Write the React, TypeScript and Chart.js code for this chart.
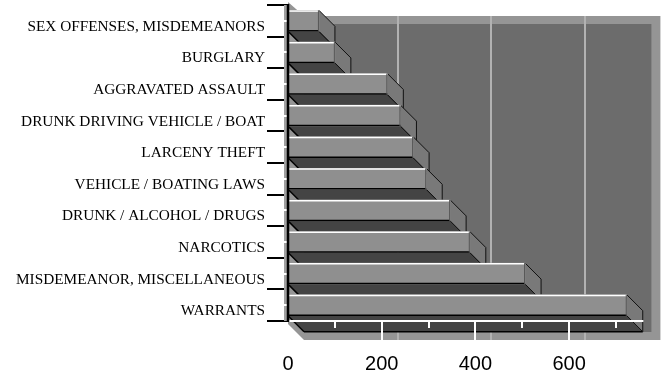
import React, { useEffect, useRef } from 'react';
import { Chart, registerables } from 'chart.js';

Chart.register(...registerables);

const categories = [
  'SEX OFFENSES, MISDEMEANORS',
  'BURGLARY',
  'AGGRAVATED ASSAULT',
  'DRUNK DRIVING VEHICLE / BOAT',
  'LARCENY THEFT',
  'VEHICLE / BOATING LAWS',
  'DRUNK / ALCOHOL / DRUGS',
  'NARCOTICS',
  'MISDEMEANOR, MISCELLANEOUS',
  'WARRANTS',
];
const arrests = [66, 100, 212, 240, 267, 295, 346, 388, 506, 723];
const majorTicks = [0, 200, 400, 600];
const minorTicks = [100, 300, 500, 700];
const axisMax = 750;

const D = 16;
const FRAME = '#959595';
const WALL = '#6c6c6c';
const GRID = '#b2b2b2';
const FRONT = '#8f8f8f';
const SIDE = '#797979';
const BOTTOM = '#444444';

function poly(ctx: CanvasRenderingContext2D, pts: number[][]) {
  ctx.beginPath();
  ctx.moveTo(pts[0][0], pts[0][1]);
  for (let i = 1; i < pts.length; i++) ctx.lineTo(pts[i][0], pts[i][1]);
  ctx.closePath();
}
function line(ctx: CanvasRenderingContext2D, x1: number, y1: number, x2: number, y2: number) {
  ctx.beginPath();
  ctx.moveTo(x1, y1);
  ctx.lineTo(x2, y2);
  ctx.stroke();
}

const pseudo3d = {
  id: 'pseudo3d',
  beforeDatasetsDraw(chart: any) {
    const { ctx, chartArea: a, scales } = chart;
    const xs = scales.x;
    const x0 = xs.getPixelForValue(0);
    const xEnd = xs.getPixelForValue(axisMax);
    ctx.save();
    // walls edge (frame)
    ctx.fillStyle = FRAME;
    poly(ctx, [
      [x0, a.top - 3],
      [x0 + D, a.top + 11],
      [xEnd + 21, a.top + 11],
      [xEnd + 21, a.bottom + 19],
      [x0 + D, a.bottom + 19],
      [x0, a.bottom + 3],
    ]);
    ctx.fill();
    // back wall
    ctx.fillStyle = WALL;
    ctx.fillRect(x0 + D, a.top + 19, xEnd + 12 - (x0 + D), a.bottom + 11 - (a.top + 19));
    // back wall grid lines
    ctx.strokeStyle = GRID;
    ctx.lineWidth = 2;
    for (const v of majorTicks) {
      if (v === 0) continue;
      const gx = Math.round(xs.getPixelForValue(v) + D);
      line(ctx, gx, a.top + 11, gx, a.bottom + 19);
    }
    // bottom & side faces, top to bottom
    const meta = chart.getDatasetMeta(0);
    meta.data.forEach((el: any) => {
      const { x, y, base, height } = el.getProps(['x', 'y', 'base', 'height'], true);
      const t = y - height / 2;
      const b = y + height / 2;
      ctx.fillStyle = BOTTOM;
      poly(ctx, [[base, b], [x, b], [x + D, b + D], [base + D, b + D]]);
      ctx.fill();
      ctx.strokeStyle = '#000';
      ctx.lineWidth = 1.5;
      line(ctx, base, b, base + D, b + D);
      line(ctx, base + D, b + D, x + D, b + D);
      ctx.lineWidth = 1;
      line(ctx, x, b, x + D, b + D);
      ctx.fillStyle = SIDE;
      poly(ctx, [[x, t], [x + D, t + D], [x + D, b + D], [x, b]]);
      ctx.fill();
      ctx.strokeStyle = '#111';
      ctx.lineWidth = 1;
      line(ctx, x, t, x + D, t + D);
      line(ctx, x + D, t + D, x + D, b + D);
      line(ctx, x, b, x + D, b + D);
    });
    ctx.restore();
  },
  afterDatasetsDraw(chart: any) {
    const { ctx, chartArea: a, scales } = chart;
    const xs = scales.x;
    const ys = scales.y;
    const x0 = xs.getPixelForValue(0);
    const xEnd = xs.getPixelForValue(axisMax);
    ctx.save();
    const meta = chart.getDatasetMeta(0);
    meta.data.forEach((el: any) => {
      const { x, y, base, height } = el.getProps(['x', 'y', 'base', 'height'], true);
      const t = y - height / 2;
      const b = y + height / 2;
      ctx.strokeStyle = '#ffffff';
      ctx.lineWidth = 1.5;
      line(ctx, base, t + 0.75, x, t + 0.75);
      ctx.strokeStyle = '#000';
      ctx.lineWidth = 1.5;
      line(ctx, base, b - 0.5, x, b - 0.5);
      ctx.strokeStyle = '#555';
      ctx.lineWidth = 1;
      line(ctx, x - 0.5, t, x - 0.5, b);
    });
    // value axis (white) on the floor edge
    ctx.strokeStyle = '#ffffff';
    ctx.lineWidth = 2;
    line(ctx, x0 + 1, a.bottom, xEnd + 4, a.bottom);
    for (const v of majorTicks) {
      if (v === 0) continue;
      const px = Math.round(xs.getPixelForValue(v));
      line(ctx, px, a.bottom, px, a.bottom + 20);
    }
    for (const v of minorTicks) {
      const px = Math.round(xs.getPixelForValue(v));
      line(ctx, px, a.bottom, px, a.bottom + 7);
    }
    // category axis strip with minor marks
    ctx.fillStyle = '#a0a0a0';
    ctx.fillRect(x0 - 4, a.top, 3, a.bottom - a.top);
    ctx.strokeStyle = '#ffffff';
    ctx.lineWidth = 2;
    categories.forEach((_, i) => {
      const cy = Math.round(ys.getPixelForValue(i));
      line(ctx, x0 - 4, cy, x0 - 1, cy);
    });
    ctx.strokeStyle = '#000';
    ctx.lineWidth = 2.5;
    line(ctx, x0, a.top - 1, x0, a.bottom + 1);
    ctx.restore();
  },
};

export default function App() {
  const ref = useRef<HTMLCanvasElement | null>(null);
  useEffect(() => {
    if (!ref.current) return;
    const chart = new Chart(ref.current, {
      type: 'bar',
      data: {
        labels: categories,
        datasets: [
          {
            data: arrests,
            backgroundColor: FRONT,
            borderWidth: 0,
            barThickness: 21,
          },
        ],
      },
      options: {
        indexAxis: 'y',
        animation: false,
        responsive: false,
        events: [],
        layout: { padding: { left: 0, top: 5, right: 22.6, bottom: 0 } },
        plugins: { legend: { display: false }, tooltip: { enabled: false } },
        scales: {
          x: {
            type: 'linear',
            min: 0,
            max: axisMax,
            afterBuildTicks: (scale: any) => {
              scale.ticks = majorTicks.map((v) => ({ value: v }));
            },
            afterFit: (scale: any) => {
              scale.height = 58;
              scale.paddingLeft = 0;
              scale.paddingRight = 0;
            },
            grid: { display: false, drawTicks: false },
            border: { display: false },
            ticks: {
              padding: 31,
              color: '#000',
              font: { family: "'Liberation Sans', Arial, sans-serif", size: 20 },
              maxRotation: 0,
            },
          },
          y: {
            type: 'category',
            afterFit: (scale: any) => {
              scale.width = 288;
              scale.paddingTop = 0;
              scale.paddingBottom = 0;
            },
            grid: {
              display: true,
              drawOnChartArea: false,
              drawTicks: true,
              tickLength: 21,
              color: '#000',
              lineWidth: 2,
              offset: true,
            },
            border: { display: false },
            ticks: {
              padding: 2,
              labelOffset: 6,
              color: '#000',
              font: { family: "'Liberation Serif', 'Times New Roman', serif", size: 15.3 },
            },
          },
        },
      },
      plugins: [pseudo3d],
    });
    return () => chart.destroy();
  }, []);
  return (
    <div style={{ position: 'fixed', left: 0, top: 0, width: 662, height: 379, background: '#fff' }}>
      <canvas ref={ref} width={662} height={379} style={{ display: 'block' }} />
    </div>
  );
}
